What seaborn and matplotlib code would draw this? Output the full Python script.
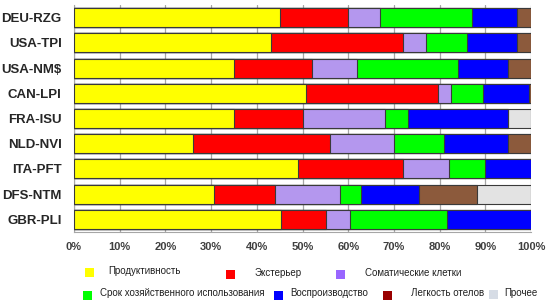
import numpy as np
import pandas as pd
import seaborn as sns
import matplotlib.pyplot as plt
from matplotlib.patches import Rectangle

# share of each trait group in national selection indices, %
breeds = ['DEU-RZG', 'USA-TPI', 'USA-NM$', 'CAN-LPI', 'FRA-ISU',
          'NLD-NVI', 'ITA-PFT', 'DFS-NTM', 'GBR-PLI']
productivity = [45, 43, 35, 50.8, 35, 26, 49, 30.6, 45.3]
conformation = [15, 29, 17, 28.8, 15, 30, 23, 13.4, 9.8]
somatic = [7, 5, 10, 3, 18, 14, 10, 14.2, 5.4]
longevity = [20, 9, 22, 7, 5, 11, 8, 4.6, 21.1]
fertility = [10, 11, 11, 10, 22, 14, 10, 12.7, 18.4]
calving = [3, 3, 5, 0.4, 0, 5, 0, 12.6, 0]
other = [0, 0, 0, 0, 5, 0, 0, 11.9, 0]

labels = ['Продуктивность', 'Экстерьер', 'Соматические клетки',
          'Срок хозяйственного использования', 'Воспроизводство',
          'Легкость отелов', 'Прочее']
bar_colors = ['#FFFF00', '#FF0000', '#B497EE', '#00FF00', '#0000FF', '#8C5A3C', '#E3E3E3']
legend_colors = ['#FFFF00', '#FF0000', '#9966FF', '#00FF00', '#0000FF', '#990000', '#D6DCE5']

df = pd.DataFrame({'breed': breeds})
for lab, vals in zip(labels, [productivity, conformation, somatic, longevity,
                              fertility, calving, other]):
    df[lab] = vals
cum = df[labels].cumsum(axis=1)

sns.set_style('white')
plt.rcParams['font.family'] = ['Liberation Sans', 'DejaVu Sans']

fig = plt.figure(figsize=(5.53, 3.06), dpi=100)
ax = fig.add_axes([74 / 553, 1 - 232 / 306, 457 / 553, 227 / 306])

# stacked bars: draw cumulative totals from the right end backwards
for lab, c in reversed(list(zip(labels, bar_colors))):
    sns.barplot(x=cum[lab], y=df['breed'], orient='h', color=c, saturation=1,
                width=0.75, edgecolor='#3a3a3a', linewidth=0.8, errorbar=None,
                ax=ax, zorder=3)

ax.set_xlim(0, 100)
ax.set_ylim(len(breeds) - 0.5, -0.5)
ax.set_xticks(np.arange(0, 101, 10))
ax.set_xticklabels([f'{v}%' for v in range(0, 101, 10)])
ax.set_xlabel('')
ax.set_ylabel('')
ax.grid(axis='x', color='#A6A6A6', linewidth=0.9, zorder=0)
for s in ['top', 'right']:
    ax.spines[s].set_visible(False)
ax.spines['left'].set_color('#A6A6A6')
ax.spines['bottom'].set_color('#A6A6A6')
ax.tick_params(axis='x', length=3, color='#A6A6A6', pad=4, labelsize=8, labelcolor='#404040')
ax.tick_params(axis='y', length=0, pad=9, labelsize=9.5)
for t in ax.get_xticklabels() + ax.get_yticklabels():
    t.set_fontweight('bold')

# legend laid out like the original spreadsheet legend
sq_x = [85, 226, 336, 83, 274, 383, 489]
txt_x = [108, 255, 365, 100, 290, 411, 504]
row_y = [272, 274, 274, 295, 295, 295, 294]
for lab, c, sx, tx, y in zip(labels, legend_colors, sq_x, txt_x, row_y):
    fig.add_artist(Rectangle((sx / 553, 1 - (y + 4.5) / 306), 9 / 553, 9 / 306,
                             transform=fig.transFigure, facecolor=c, edgecolor='none'))
    fig.text(tx / 553, 1 - (y - 1.5) / 306, lab, fontsize=7, va='center', ha='left', color='#202020')

fig.savefig('out.png', dpi=100)
